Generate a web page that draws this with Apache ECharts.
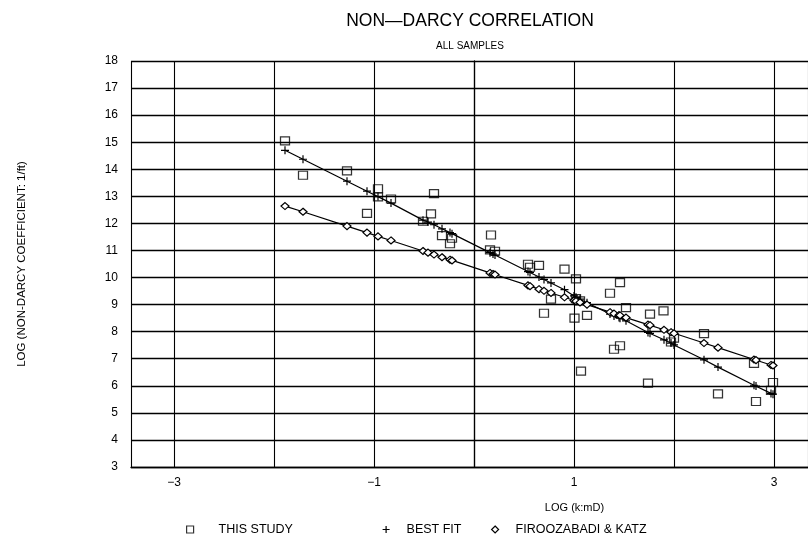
<!DOCTYPE html>
<html><head><meta charset="utf-8">
<script src="https://cdn.jsdelivr.net/npm/echarts@6/dist/echarts.min.js"></script>
<style>html,body{margin:0;padding:0;background:#fff}#c{width:808px;height:544px}</style>
</head><body><div id="c"></div>
<script>
// THIS STUDY (log k, log beta)
const studyLogK = [-1.89,-1.71,-1.27,-1.07,-0.96,-0.96,-0.83,-0.51,-0.43,-0.40,-0.32,-0.24,-0.22,0.17,0.16,0.21,0.54,0.56,0.65,0.70,0.77,0.905,1.02,1.005,1.02,1.06,1.07,1.13,1.36,1.40,1.46,1.46,1.52,1.74,1.76,1.895,1.97,2.00,2.30,2.44,2.80,2.82,2.97,2.99];
const studyLogBeta = [15.05,13.78,13.94,12.37,13.28,12.98,12.90,12.08,12.35,13.10,11.55,11.25,11.45,11.57,11.02,10.97,10.49,10.38,10.45,8.68,9.20,10.31,9.95,8.50,9.22,9.14,6.54,8.60,9.42,7.35,7.48,9.81,8.89,6.10,8.65,8.77,7.62,7.76,7.93,5.70,6.83,5.42,5.83,6.12];
// BEST FIT and FIROOZABADI & KATZ (same log k positions)
const fitLogK = [-1.89,-1.71,-1.27,-1.07,-0.96,-0.83,-0.51,-0.46,-0.40,-0.32,-0.24,-0.22,0.16,0.19,0.21,0.54,0.56,0.65,0.70,0.77,0.905,1.00,1.02,1.06,1.13,1.36,1.40,1.45,1.46,1.52,1.74,1.76,1.90,1.97,2.00,2.30,2.44,2.80,2.82,2.97,2.99];
const bestFitLogBeta = [14.70,14.37,13.56,13.19,12.99,12.75,12.12,12.05,11.95,11.80,11.66,11.62,10.92,10.87,10.83,10.22,10.19,10.02,9.93,9.80,9.55,9.32,9.27,9.20,9.07,8.65,8.58,8.52,8.50,8.40,7.97,7.94,7.70,7.58,7.51,6.96,6.69,6.02,5.99,5.72,5.69];
const fkLogBeta = [12.64,12.43,11.90,11.66,11.52,11.37,10.98,10.92,10.85,10.75,10.66,10.63,10.17,10.13,10.11,9.71,9.68,9.57,9.51,9.43,9.27,9.15,9.13,9.08,9.00,8.72,8.67,8.61,8.60,8.52,8.26,8.24,8.07,7.98,7.94,7.58,7.41,6.97,6.95,6.77,6.75];
const xLabelValues = [-3,-1,1,3];
const seriesNames = ['THIS STUDY','BEST FIT','FIROOZABADI & KATZ'];

const FONT = 'Liberation Sans';
const plusPath = 'path://M0,5L10,5M5,0L5,10';
const zip = (a,b) => a.map((v,i) => [v,b[i]]);

const chart = echarts.init(document.getElementById('c'), null, {renderer:'canvas'});
const legendBase = {
  top: 518, orient:'horizontal', selectedMode:false, itemWidth:7, itemHeight:7
};
const legendText = pad => ({fontFamily:FONT, fontSize:12.5, color:'#000', padding:[0,0,0,pad]});
chart.setOption({
  animation:false,
  backgroundColor:'#fff',
  title:{
    left:465, top:7, textAlign:'center', itemGap:11,
    text:'NON—DARCY CORRELATION',
    subtext:'ALL SAMPLES',
    textStyle:{fontFamily:FONT, fontSize:17.5, fontWeight:'normal', color:'#000'},
    subtextStyle:{fontFamily:FONT, fontSize:10, color:'#000'}
  },
  grid:{left:131, right:0, top:61, bottom:77, containLabel:false},
  xAxis:{
    type:'value', min:-3.43, max:3.34, minInterval:1, maxInterval:1,
    name:'LOG (k:mD)', nameLocation:'middle', nameGap:35,
    nameTextStyle:{fontFamily:FONT, fontSize:11, color:'#000', padding:[0,0,0,210]},
    axisLine:{show:true, lineStyle:{color:'#000', width:1.3}},
    axisTick:{show:false},
    axisLabel:{fontFamily:FONT, fontSize:12, color:'#000', margin:10,
      showMinLabel:false, showMaxLabel:false,
      formatter: v => xLabelValues.indexOf(Math.round(v*100)/100) >= 0 ? String(v).replace('-', '\u2212') : ''},
    splitLine:{show:true, lineStyle:{color:'#000', width:1.1}}
  },
  yAxis:{
    type:'value', min:3, max:18, interval:1,
    name:'LOG (NON-DARCY COEFFICIENT: 1/ft)', nameLocation:'middle', nameGap:103,
    nameTextStyle:{fontFamily:FONT, fontSize:11.5, color:'#000'},
    axisLine:{show:true, lineStyle:{color:'#000', width:1.3}},
    axisTick:{show:false},
    axisLabel:{fontFamily:FONT, fontSize:12, color:'#000', margin:13},
    splitLine:{show:true, lineStyle:{color:'#000', width:1.3}}
  },
  legend:[
    Object.assign({left:181, textStyle:legendText(20), data:[{name:seriesNames[0], icon:'rect', itemStyle:{color:'rgba(0,0,0,0)', borderColor:'#000', borderWidth:1.2}}]}, legendBase),
    Object.assign({left:377, textStyle:legendText(12), data:[{name:seriesNames[1], icon:plusPath, itemStyle:{color:'#000', borderColor:'#000', borderWidth:1.2}}]}, legendBase),
    Object.assign({left:486, textStyle:legendText(12), data:[{name:seriesNames[2], icon:'diamond', itemStyle:{color:'rgba(0,0,0,0)', borderColor:'#000', borderWidth:1.2}}]}, legendBase)
  ],
  series:[
    {name:seriesNames[0], type:'scatter', data:zip(studyLogK, studyLogBeta),
     symbol:'rect', symbolSize:[9,8],
     itemStyle:{color:'rgba(0,0,0,0)', borderColor:'#000', borderWidth:1.2}, emphasis:{disabled:true}, z:3},
    {name:seriesNames[1], type:'line', data:zip(fitLogK, bestFitLogBeta),
     symbol:plusPath, symbolSize:8, showSymbol:true,
     lineStyle:{color:'#000', width:1.2},
     itemStyle:{color:'#000', borderColor:'#000', borderWidth:1.2}, emphasis:{disabled:true}, z:4},
    {name:seriesNames[2], type:'line', data:zip(fitLogK, fkLogBeta),
     symbol:'diamond', symbolSize:[8,7], showSymbol:true,
     lineStyle:{color:'#000', width:1.2},
     itemStyle:{color:'#fff', borderColor:'#000', borderWidth:1.2}, emphasis:{disabled:true}, z:4}
  ]
});
</script></body></html>
